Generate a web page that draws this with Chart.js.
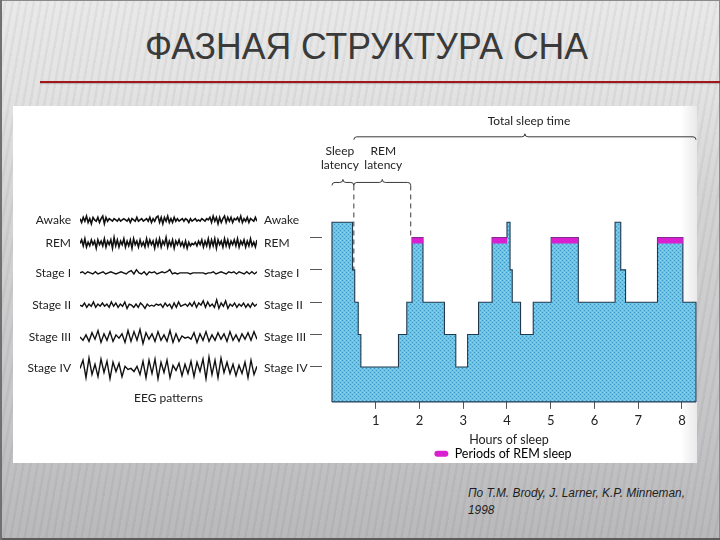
<!DOCTYPE html>
<html><head><meta charset="utf-8">
<script src="https://cdn.jsdelivr.net/npm/chart.js@4.4.1/dist/chart.umd.min.js"></script>
<style>
html,body{margin:0;padding:0;}
body{width:720px;height:540px;position:relative;overflow:hidden;
 background:linear-gradient(to bottom,#e9e9e9 0px,#e3e3e3 90px,#d4d4d5 200px,#c5c5c7 420px,#b9b9bb 540px);}
#stripes{position:absolute;inset:0;background:repeating-linear-gradient(100deg,rgba(0,0,0,0) 0px,rgba(0,0,0,0) 4px,rgba(0,0,0,0.045) 5px,rgba(0,0,0,0.045) 7px);}
#frame{position:absolute;inset:0;box-shadow:inset 2px 0 0 #707070,inset 0 1px 0 #8a8a8a,inset 0 -2px 0 #5c5c5c,inset -1px 0 0 #8a8a8a;}
#title{position:absolute;left:145px;top:26px;font-family:"Liberation Sans Narrow","Liberation Sans",Arial,sans-serif;font-size:37px;color:#3a3a3a;white-space:nowrap;transform-origin:0 0;}
#rule{position:absolute;left:40px;top:81px;width:680px;height:2px;background:#a3161a;box-shadow:0 1px 1px rgba(0,0,0,0.2);}
#panel{position:absolute;left:13px;top:106px;width:684px;height:357px;background:linear-gradient(to right,#fff 0%,#fff 97.6%,#e9e9e9 100%);}
#eeg{position:absolute;left:10px;top:190px;}
#hyp{position:absolute;left:300px;top:106px;}
#cite{position:absolute;left:468px;top:485px;font-family:"Liberation Sans",Arial,sans-serif;font-style:italic;font-size:12px;line-height:17px;color:#1e1e1e;white-space:nowrap;transform-origin:0 0;}
</style></head>
<body>
<div id="stripes"></div>
<div id="frame"></div>
<div id="title">ФАЗНАЯ СТРУКТУРА СНА</div>
<div id="rule"></div>
<div id="panel"></div>
<canvas id="eeg" width="330" height="217"></canvas>
<canvas id="hyp" width="400" height="364"></canvas>
<div id="cite"><span id="cite1">По T.M. Brody, J. Larner, K.P. Minneman,</span><br>1998</div>
<script>
// ---------------- DATA ----------------
const stageNames = ['Awake','REM','Stage I','Stage II','Stage III','Stage IV'];

// EEG traces (relative amplitude)
const eegAwake = [1,-2,2,-1,3,-2,1,-3,2,0,-1,2,-2,1,3,-3,2,-1,1,0,
 -1,1,0,-1,1,-1,0,1,0,-1,1,-2,1,0,-1,2,-1,0,1,-1,
 0,1,-1,2,-2,1,-1,2,3,-2,2,-3,2,-1,3,-2,1,-2,2,-1,
 1,-1,0,1,-1,1,0,-2,1,-1,0,1,-1,0,-1,1,0,-1,1,0,
 2,-2,3,-1,2,-3,2,-2,1,3,-2,2,-1,2,-2,1,0,2,-1,3,
 -2,1,-1,2,-2,1,0,-1,2,-1];
const eegRem = [0,3,-2,4,-3,1,-2,3,-1,2,-4,3,-1,2,-2,4,-3,2,-1,3,
 -4,5,-2,3,-3,2,-1,4,-3,2,-2,3,-4,4,-1,2,-3,3,-2,1,
 -3,4,-2,3,-1,2,-4,3,-2,4,-3,2,-1,5,-3,2,-2,3,-4,2,
 -1,3,-2,1,-3,2,-4,1,-2,0,-1,1,-2,2,-1,3,-3,2,-2,4,
 -3,3,-2,4,-4,3,-1,2,-3,4,-2,3,-3,2,-1,3,-2,4,-3,2,
 -1,3,-3,2,-2,4,-2,1,-3,3];
const eegStage1 = [0,1,-1,1,0,-1,1,-1,0,1,-1,0,1,0,-1,0,1,0,-1,1,
 2,-1,3,0,-1,1,-2,1,0,1,-1,0,1,0,1,3,-1,0,-1,0,
 0,0,0,-1,0,0,0,0,0,-1,0,0,1,-1,0,1,0,-1,1,0,
 1,-1,1,0,-1,1,-1,1,-1,1];
const eegStage2 = [0,-1,2,-2,1,-1,3,-2,1,-1,2,-1,1,-2,3,-1,2,-2,1,-1,
 3,-3,1,0,-2,1,-2,2,0,-3,1,-1,0,-1,1,0,1,-2,2,-1,
 1,-3,2,-2,3,-1,0,1,-1,2,-1,3,-2,2,0,4,-2,3,-1,1,
 -2,5,-3,2,-1,4,-3,1,-1,2,-2,1,-1,2,-2,1,-2,2,-1,1];
const eegStage3 = [0,-3,2,-4,4,-2,6,-5,3,-3,5,-4,2,-1,3,-5,6,-4,5,-3,
 7,-6,4,-2,3,-4,5,-3,2,-4,6,-5,3,-4,1,-1,0,-2,4,-5,
 3,-3,5,-4,2,-3,4,-2,3,-4,5,-3,2,-4,3,-2,4,-3,5,-2];
const eegStage4 = [0,8,-9,10,-6,4,-8,9,-4,7,-10,6,-3,5,-8,2,-1,0,-3,2,
 -6,7,-9,8,-5,9,-10,6,-4,8,-9,3,-2,5,-7,4,-5,7,-8,6,
 -3,9,-10,11,-6,8,-9,10,-4,6,-5,4,-7,3,-5,6,-9,8,-6,2];

// Hypnogram: segment start hours and stage in each segment
const segStart = [0,0.47,0.52,0.60,0.66,1.52,1.71,1.83,2.08,2.57,2.83,3.10,3.35,3.66,4.00,4.07,4.12,4.31,4.60,5.01,5.63,6.47,6.60,6.71,7.44,8.02];
const segStage = ['Awake','Stage I','Stage II','Stage III','Stage IV','Stage III','Stage II','REM','Stage II','Stage III','Stage IV','Stage III','Stage II','REM','Awake','Stage I','Stage II','Stage III','Stage II','REM','Stage II','Awake','Stage I','Stage II','REM','Stage II'];
const sleepEnd = 8.32;
const remStart = [1.83,3.66,5.01,7.44];
const remEnd = [2.08,4.00,5.63,8.02];
const hourTicks = [1,2,3,4,5,6,7,8];
const sleepOnset = 0.5;
const firstRem = 1.8;
const bedTime = 0;

// ---------------- LAYOUT / STYLE ----------------
const stageLevel = {'Awake':5.47,'REM':5,'Stage I':4,'Stage II':3,'Stage III':2,'Stage IV':1};
const yBottom = -0.08, yTop = 9.0;
const remBandY = 4.907;
const eegRowPos = [0,24,54,87,119.5,151.5];
const eegGain = [1.3,1.2,1.1,1.1,1.1,1.05];
const FONT = 'Lato, "Open Sans", sans-serif';
const ink = '#222';
const magenta = '#da1fd0';

// title / citation fitting
(function(){
  const t=document.getElementById('title');
  t.style.transform='scaleX('+(443/t.getBoundingClientRect().width)+')';
  const c=document.getElementById('cite1');
  document.getElementById('cite').style.transform='scaleX('+(217/c.getBoundingClientRect().width)+')';
})();

// ---------------- EEG chart ----------------
const eegTraces=[eegAwake,eegRem,eegStage1,eegStage2,eegStage3,eegStage4];
const rowAxis=(pos)=>({
  type:'linear',position:pos,reverse:true,min:-14,max:166,
  afterBuildTicks:s=>{s.ticks=eegRowPos.map(v=>({value:v}));},
  afterFit:s=>{s.width=(pos==='left'?70:83);},
  ticks:{callback:(v,i)=>stageNames[i],padding:(pos==='left'?9:7),color:ink,font:{family:FONT,size:12},autoSkip:false},
  grid:{display:false,drawTicks:false},border:{display:false}
});
new Chart(document.getElementById('eeg'),{
  type:'line',
  data:{datasets:eegTraces.map((tr,i)=>({
    data:tr.map((v,j)=>({x:j/(tr.length-1),y:eegRowPos[i]-v*eegGain[i]})),
    borderColor:'#111',borderWidth:(i<2?1.6:1.4),pointRadius:0,tension:0,fill:false,yAxisID:'yl'
  }))},
  options:{
    responsive:false,animation:false,events:[],
    layout:{padding:{top:12,bottom:0,left:0,right:0}},
    plugins:{legend:{display:false},tooltip:{enabled:false}},
    scales:{
      x:{type:'linear',min:0,max:1,ticks:{display:false},grid:{display:false,drawTicks:false},border:{display:false},
         title:{display:true,text:'EEG patterns',color:ink,font:{family:FONT,size:12},padding:{top:8,bottom:2}}},
      yl:rowAxis('left'),
      yr:rowAxis('right')
    }
  }
});

// ---------------- Hypnogram ----------------
function makePattern(){
  const c=document.createElement('canvas');c.width=4;c.height=4;
  const g=c.getContext('2d');
  g.fillStyle='#6bc3e5';g.fillRect(0,0,4,4);
  g.fillStyle='#3e98c8';g.fillRect(0,0,1,1);g.fillRect(2,2,1,1);
  g.fillStyle='#8ad2ee';g.fillRect(2,0,1,1);g.fillRect(0,2,1,1);
  return g.createPattern(c,'repeat');
}
const hypPts=[{x:segStart[0],y:yBottom}];
segStage.forEach((st,i)=>{
  const x0=segStart[i], x1=(i+1<segStart.length?segStart[i+1]:sleepEnd);
  hypPts.push({x:x0,y:stageLevel[st]},{x:x1,y:stageLevel[st]});
});
hypPts.push({x:sleepEnd,y:yBottom});
const remPts=[];
remStart.forEach((s,i)=>{remPts.push({x:s,y:remBandY},{x:remEnd[i],y:remBandY},{x:remEnd[i],y:null});});

function brace(ctx,x1,x2,yy){
  const m=(x1+x2)/2,r=3;
  ctx.beginPath();
  ctx.moveTo(x1,yy+r);
  ctx.quadraticCurveTo(x1,yy,x1+r,yy);
  ctx.lineTo(m-r,yy);
  ctx.quadraticCurveTo(m,yy,m,yy-r);
  ctx.quadraticCurveTo(m,yy,m+r,yy);
  ctx.lineTo(x2-r,yy);
  ctx.quadraticCurveTo(x2,yy,x2,yy+r);
  ctx.stroke();
}
const annot={
  id:'annot',
  afterDatasetsDraw(chart){
    const {ctx,scales:{x,y}}=chart;
    ctx.save();
    ctx.strokeStyle='#3a3a3a';ctx.lineWidth=1;
    const yTot=y.getPixelForValue(8.11), yLat=y.getPixelForValue(6.70);
    brace(ctx,x.getPixelForValue(sleepOnset),x.getPixelForValue(sleepEnd),yTot);
    brace(ctx,x.getPixelForValue(bedTime),x.getPixelForValue(sleepOnset),yLat);
    brace(ctx,x.getPixelForValue(sleepOnset),x.getPixelForValue(firstRem),yLat);
    ctx.setLineDash([5,4]);
    ctx.beginPath();
    ctx.moveTo(x.getPixelForValue(sleepOnset),yLat+3);ctx.lineTo(x.getPixelForValue(sleepOnset),y.getPixelForValue(stageLevel['Stage I']));
    ctx.moveTo(x.getPixelForValue(firstRem),yLat+3);ctx.lineTo(x.getPixelForValue(firstRem),y.getPixelForValue(stageLevel['REM']));
    ctx.stroke();
    ctx.setLineDash([]);
    ctx.fillStyle=ink;ctx.font='12px '+FONT;ctx.textAlign='center';ctx.textBaseline='middle';
    const mid=(a,b)=>(x.getPixelForValue(a)+x.getPixelForValue(b))/2;
    ctx.fillText('Total sleep time',mid(sleepOnset,sleepEnd)+4,y.getPixelForValue(8.59));
    ctx.fillText('Sleep',mid(bedTime,sleepOnset)-3,y.getPixelForValue(7.66));
    ctx.fillText('latency',mid(bedTime,sleepOnset)-3,y.getPixelForValue(7.25));
    ctx.fillText('REM',mid(sleepOnset,firstRem)+1,y.getPixelForValue(7.66));
    ctx.fillText('latency',mid(sleepOnset,firstRem)+1,y.getPixelForValue(7.25));
    ctx.restore();
  }
};

new Chart(document.getElementById('hyp'),{
  type:'line',
  data:{datasets:[
    {label:'Sleep stages',data:hypPts,backgroundColor:makePattern(),borderColor:'#22384f',borderWidth:1.1,pointRadius:0,tension:0,fill:'start',order:3,clip:false},
    {label:'base',data:[{x:bedTime,y:yBottom},{x:sleepEnd,y:yBottom}],borderColor:'#22384f',borderWidth:1.2,pointRadius:0,fill:false,order:2,clip:false},
    {label:'Periods of REM sleep',data:remPts,borderColor:magenta,backgroundColor:magenta,borderWidth:6,borderCapStyle:'butt',pointRadius:0,fill:false,spanGaps:false,order:1}
  ]},
  options:{
    responsive:false,animation:false,events:[],
    layout:{padding:{top:2,bottom:0,left:10,right:4}},
    plugins:{
      tooltip:{enabled:false},
      legend:{display:true,position:'bottom',
        labels:{color:ink,font:{family:FONT,size:12.5},boxWidth:14,boxHeight:6,padding:0,useBorderRadius:true,borderRadius:3,
          generateLabels:()=>[{text:'Periods of REM sleep',fillStyle:magenta,strokeStyle:magenta,lineWidth:0,datasetIndex:2,borderRadius:3}]}}
    },
    scales:{
      x:{type:'linear',min:-0.228,max:sleepEnd,
        afterBuildTicks:s=>{s.ticks=hourTicks.map(v=>({value:v}));},
        ticks:{color:ink,font:{family:FONT,size:13},padding:4,autoSkip:false,maxRotation:0},
        grid:{drawOnChartArea:false,drawTicks:true,tickLength:7,color:'#555'},border:{display:false},
        title:{display:true,text:'Hours of sleep',color:ink,font:{family:FONT,size:12.5},padding:{top:0,bottom:0}}},
      y:{type:'linear',min:yBottom,max:yTop,
        afterBuildTicks:s=>{s.ticks=[1,2,3,4,5].map(v=>({value:v}));},
        afterFit:s=>{s.width=12;},
        ticks:{display:false},
        grid:{drawOnChartArea:false,drawTicks:true,tickLength:12,color:'#555'},border:{display:false}}
    }
  },
  plugins:[annot]
});
</script>
</body></html>
